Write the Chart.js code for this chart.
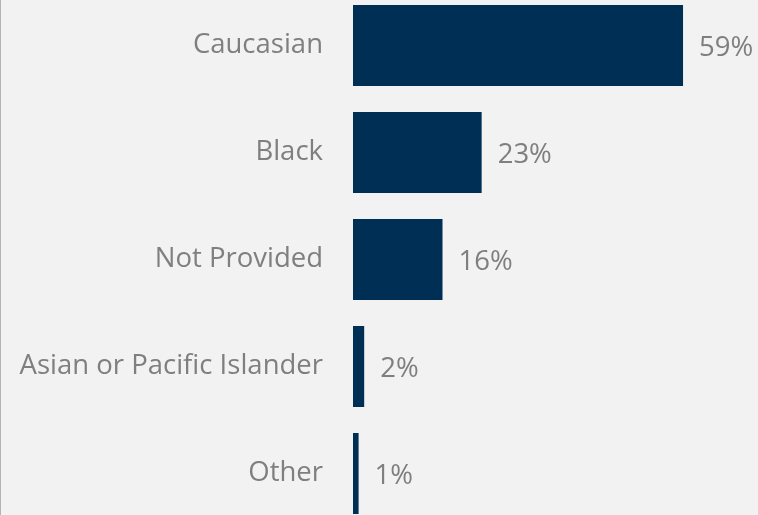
<!DOCTYPE html>
<html>
<head>
<meta charset="utf-8">
<script src="https://cdn.jsdelivr.net/npm/chart.js@4"></script>
<style>
    html, body {
        margin: 0;
        padding: 0;
        width: 758px;
        height: 515px;
        overflow: hidden;
        background: #f2f2f2;
    }
    body::before {
        content: '';
        position: absolute;
        left: 0;
        top: 0;
        width: 1px;
        height: 515px;
        background: #b3b3b3;
        z-index: 2;
    }
    #raceChart {
        position: absolute;
        left: 0;
        top: -8px;
    }
</style>
</head>
<body>
<canvas id="raceChart" width="758" height="535"></canvas>
<script>
    // カテゴリと値
    const categories = ['Caucasian', 'Black', 'Not Provided', 'Asian or Pacific Islander', 'Other'];
    const shares = [59, 23, 16, 2, 1];

    const labelColor = '#7f7f7f';
    const fontFamily = '"Open Sans", sans-serif';

    // バーの右側に値ラベルを描く
    const valueLabels = {
        id: 'valueLabels',
        afterDatasetsDraw(chart) {
            const ctx = chart.ctx;
            const meta = chart.getDatasetMeta(0);
            ctx.save();
            ctx.font = '27.5px ' + fontFamily;
            ctx.fillStyle = labelColor;
            ctx.textAlign = 'left';
            ctx.textBaseline = 'middle';
            meta.data.forEach((bar, i) => {
                ctx.fillText(shares[i] + '%', bar.x + 16, bar.y + 3);
            });
            ctx.restore();
        }
    };

    const ctx = document.getElementById('raceChart').getContext('2d');
    new Chart(ctx, {
        type: 'bar',
        data: {
            labels: categories,
            datasets: [{
                data: shares,
                backgroundColor: '#002f55',
                borderWidth: 0,
                categoryPercentage: 0.757,
                barPercentage: 1
            }]
        },
        options: {
            indexAxis: 'y',
            responsive: false,
            animation: false,
            layout: { padding: 0 },
            scales: {
                x: {
                    display: false,
                    min: 0,
                    max: 72.4
                },
                y: {
                    grid: { display: false, drawTicks: false },
                    border: { display: false },
                    ticks: {
                        color: labelColor,
                        padding: 30,
                        font: { family: fontFamily, size: 27.5 }
                    },
                    afterFit(scale) {
                        scale.width = 353;
                        scale.paddingTop = 0;
                        scale.paddingBottom = 0;
                    }
                }
            },
            plugins: {
                legend: { display: false },
                tooltip: { enabled: false }
            }
        },
        plugins: [valueLabels]
    });
</script>
</body>
</html>
